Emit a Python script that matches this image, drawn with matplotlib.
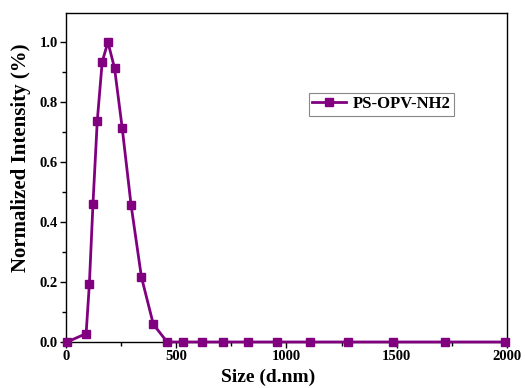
import matplotlib
matplotlib.use('Agg')
import matplotlib.pyplot as plt
from matplotlib.ticker import MultipleLocator

# DLS size distribution
size_nm = [5, 91.3, 106.0, 122.4, 141.8, 164.2, 190.1, 220.2, 255.0, 295.3,
           342.0, 396.1, 458.7, 531.2, 615.1, 712.4, 825.0, 955.4, 1106,
           1281, 1484, 1718, 1990]
intensity = [0.0, 0.028, 0.193, 0.461, 0.737, 0.934, 1.0, 0.913, 0.713, 0.456,
             0.217, 0.059, 0.0, 0.0, 0.0, 0.0, 0.0, 0.0, 0.0,
             0.0, 0.0, 0.0, 0.0]
label = 'PS-OPV-NH2'

plt.rcParams['font.family'] = ['Liberation Serif', 'DejaVu Serif']
plt.rcParams['font.weight'] = 'bold'

fig = plt.figure(figsize=(5.25, 3.88), dpi=100)
ax = fig.add_axes([0.1257, 0.1186, 0.8400, 0.8479])

ax.plot(size_nm, intensity, color='#800080', lw=2, marker='s', ms=5.5,
        label=label, clip_on=False, zorder=3)

ax.set_xlim(0, 2000)
ax.set_ylim(0, 1.097)
ax.xaxis.set_major_locator(MultipleLocator(500))
ax.xaxis.set_minor_locator(MultipleLocator(250))
ax.yaxis.set_major_locator(MultipleLocator(0.2))
ax.yaxis.set_minor_locator(MultipleLocator(0.1))
ax.yaxis.set_major_formatter(plt.FormatStrFormatter('%.1f'))
ax.tick_params(which='major', direction='out', length=4, width=1,
               labelsize=10.5, pad=2)
ax.tick_params(which='minor', direction='out', length=3, width=1)
for lab in ax.get_xticklabels() + ax.get_yticklabels():
    lab.set_fontweight('bold')
for s in ax.spines.values():
    s.set_linewidth(1)

ax.set_xlabel('Size (d.nm)', fontsize=14, fontweight='bold')
ax.xaxis.set_label_coords(0.458, -0.08)
ax.set_ylabel('Normalized Intensity (%)', fontsize=15, fontweight='bold')
ax.yaxis.set_label_coords(-0.08, 0.559)

leg = ax.legend(loc='upper left', bbox_to_anchor=(0.551, 0.757),
                borderaxespad=0, fancybox=False, framealpha=1,
                edgecolor='#888888', handlelength=2.0, borderpad=0.2,
                handletextpad=0.4,
                prop={'weight': 'bold', 'size': 12})
leg.get_frame().set_linewidth(0.8)

fig.savefig('out.png', dpi=100)
